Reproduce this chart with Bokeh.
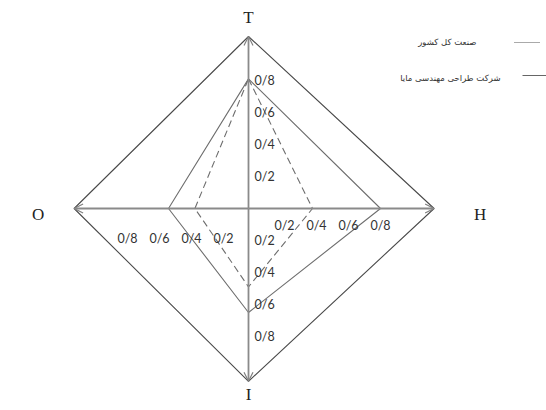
from bokeh.plotting import figure
from bokeh.models import Arrow, OpenHead, Range1d
from bokeh.core.properties import value
from bokeh.embed import file_html
from bokeh.resources import INLINE

# ---------------- data ----------------
axis_names = ["T", "H", "I", "O"]
axis_len = [1.075, 1.16, 1.08, 1.09]            # length of each axis (to the arrow tip)
company_vals = [0.81, 0.825, 0.65, 0.50]        # شرکت طراحی مهندسی مایا (solid)
industry_vals = [0.81, 0.40, 0.49, 0.335]       # صنعت کل کشور (dashed)
tick_values = [0.2, 0.4, 0.6, 0.8]
tick_labels = ["0/2", "0/4", "0/6", "0/8"]
legend_labels = ["صنعت کل کشور", "شرکت طراحی مهندسی مایا"]

# ---------------- geometry helpers ----------------
direction = {"T": (0, 1), "H": (1, 0), "I": (0, -1), "O": (-1, 0)}
PX = 160.0            # pixels per unit
W, H = 546, 410
CX, CY = 248, 208     # frame position of the centre (pixels)


def px(x, y):
    """frame pixel -> data (for layout items only)"""
    return (x - CX) / PX, (CY - y) / PX


def polar(name, v):
    dx, dy = direction[name]
    return dx * v, dy * v


p = figure(width=W, height=H, output_backend="svg", toolbar_location=None,
           x_range=Range1d(-CX / PX, (W - CX) / PX),
           y_range=Range1d(-(H - CY) / PX, CY / PX),
           min_border=0)
p.axis.visible = False
p.grid.visible = False
p.outline_line_color = None
p.background_fill_color = "white"

# outer diamond through the axis tips
ox = [polar(n, l)[0] for n, l in zip(axis_names, axis_len)]
oy = [polar(n, l)[1] for n, l in zip(axis_names, axis_len)]
p.line(ox + ox[:1], oy + oy[:1], line_color="#4a4a4a", line_width=1.1)

# axes with open arrow heads
for n, l in zip(axis_names, axis_len):
    x1, y1 = polar(n, l)
    p.add_layout(Arrow(end=OpenHead(size=9, line_color="#808080", line_width=1.2),
                       x_start=0, y_start=0, x_end=x1, y_end=y1,
                       line_color="#8a8a8a", line_width=1.8))

# series polygons
cx_ = [polar(n, v)[0] for n, v in zip(axis_names, company_vals)]
cy_ = [polar(n, v)[1] for n, v in zip(axis_names, company_vals)]
p.line(cx_ + cx_[:1], cy_ + cy_[:1], line_color="#6e6e6e", line_width=1.1)

ix = [polar(n, v)[0] for n, v in zip(axis_names, industry_vals)]
iy = [polar(n, v)[1] for n, v in zip(axis_names, industry_vals)]
p.line(ix + ix[:1], iy + iy[:1], line_color="#6e6e6e", line_width=1.1,
       line_dash="7 4")

# tick labels on each axis
tick_font = value("Lato")
label_offsets = {   # (x_offset, y_offset, align, baseline)
    "T": (6, 0, "left", "middle"),
    "I": (6, 0, "left", "middle"),
    "H": (4, 17, "center", "middle"),
    "O": (7, 30, "center", "middle"),
}
for n in axis_names:
    xs = [polar(n, v)[0] for v in tick_values]
    ys = [polar(n, v)[1] for v in tick_values]
    xo, yo, al, bl = label_offsets[n]
    p.text(x=xs, y=ys, text=tick_labels, x_offset=xo, y_offset=yo,
           text_align=al, text_baseline=bl, text_font=tick_font,
           text_font_size="12.5px", text_color="#333333")

# axis names
name_offsets = {"T": (0, -19), "H": (46, 6), "I": (0, 4), "O": (-36, 6)}
name_baseline = {"T": "middle", "H": "middle", "I": "top", "O": "middle"}
for n, l in zip(axis_names, axis_len):
    x1, y1 = polar(n, l)
    xo, yo = name_offsets[n]
    p.text(x=[x1], y=[y1], text=[n], x_offset=xo, y_offset=yo,
           text_align="center", text_baseline=name_baseline[n],
           text_font=value("Liberation Serif"), text_font_size="17px",
           text_color="#222222")

# legend (text on the left, sample line on the right)
lx0, ly0 = px(514, 42)
lx1, _ = px(540, 42)
p.line([lx0, lx1], [ly0, ly0], line_color="#555555", line_width=1, line_dash="1 1")
tx, ty = px(476, 41)
p.text(x=[tx], y=[ty], text=[legend_labels[0]], text_align="right",
       text_baseline="middle", text_font=value("DejaVu Sans"),
       text_font_size="8.5px", text_color="#333333")

lx0, ly0 = px(522, 75)
lx1, _ = px(546, 75)
p.line([lx0, lx1], [ly0, ly0], line_color="#666666", line_width=1.2)
tx, ty = px(500, 77)
p.text(x=[tx], y=[ty], text=[legend_labels[1]], text_align="right",
       text_baseline="middle", text_font=value("DejaVu Sans"),
       text_font_size="8.5px", text_color="#333333")

open("out.html", "w").write(file_html(p, INLINE))
